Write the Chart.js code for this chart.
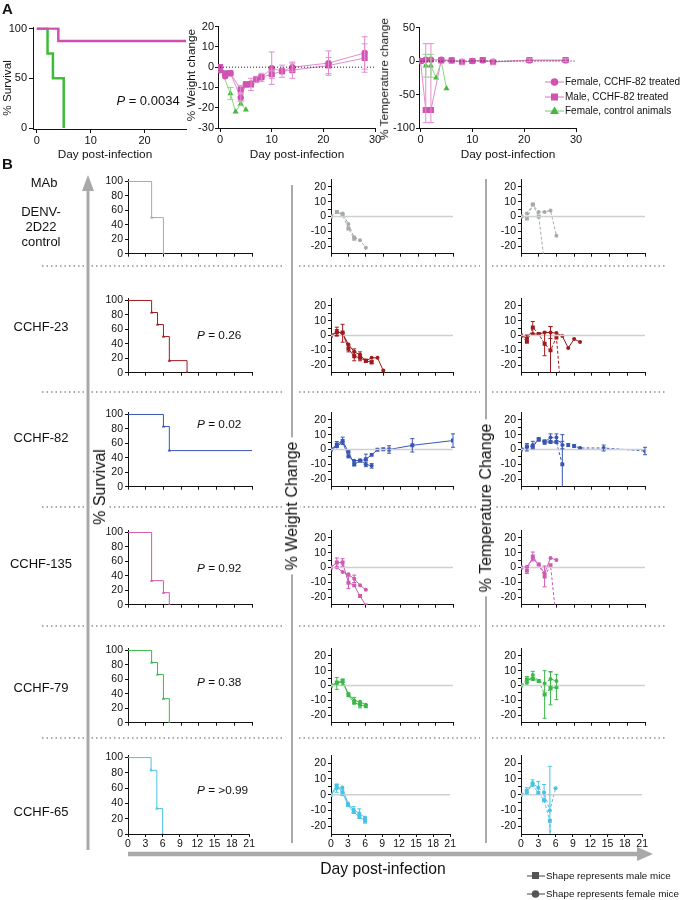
<!DOCTYPE html>
<html>
<head>
<meta charset="utf-8">
<script src="https://cdn.jsdelivr.net/npm/chart.js@4.4.0/dist/chart.umd.min.js"></script>
<style>
  body { margin: 0; background: #fff; }
  #fig { position: relative; width: 686px; height: 900px; overflow: hidden; background: #fff;
         font-family: 'Liberation Sans', Arial, sans-serif; color: #111; }
  canvas.c { position: absolute; }
  .t { position: absolute; white-space: nowrap; line-height: 1; }
  .rot { position: absolute; white-space: nowrap; line-height: 1; transform: translate(-50%, -50%) rotate(-90deg); }
  .rot.bg { background: #fff; padding: 0 4px; }
</style>
</head>
<body>
<div id="fig"><canvas id="deco" width="686" height="900" style="position:absolute;left:0;top:0"></canvas></div>
<script>
// ---------- Panel A data ----------
const aSurvTreatedDays = [0, 4, 28];
const aSurvTreated = [100, 87.5, 87.5];
const aSurvControlDays = [0, 2, 3, 5];
const aSurvControl = [100, 75, 50, 0];

const aWeightDays = [0, 1, 2, 4, 5, 6, 7, 8, 10, 12, 14, 21, 28];
const aWeightFemale = [-1.5, -4.5, -3, -15, -8.5, -8, -6, -5, -0.5, -2, 0, 2, 7];
const aWeightFemaleErr = [0, 0, 0, 1.5, 0, 0, 0, 0, 8, 0, 2, 6, 8];
const aWeightMale = [0, -3, -3, -11, -8.5, -8.5, -6, -5, -3.5, -2, -1.5, 0.8, 4.5];
const aWeightMaleErr = [0, 0, 0, 2, 0, 3, 1.5, 2, 2, 3, 4, 4, 7];
const aWeightCtrlDays = [0, 2, 3, 4, 5];
const aWeightCtrl = [0, -13, -22, -18, -21];
const aWeightCtrlErr = [0, 3, 0, 1, 0];

const aTempDays = [0, 1, 2, 4, 6, 8, 10, 12, 14, 21, 28];
const aTempFemale = [0, 2, 2, 2, 1, -1, 0, 1, -1, 1, 1];
const aTempMale = [0, -73, -73, 1, 1, -1.5, 0, 1.5, -1.5, 1.5, 1.5];
const aTempMaleErr = [0, [19, 99], [19, 99], 0, 0, 4, 0, 0, 4, 2, 2];
const aTempCtrlDays = [0, 1, 2, 3, 4, 5];
const aTempCtrl = [0, -7, -7, -25, 0, -41];
const aTempCtrlErr = [0, 17, 17, 0, 0, 0];

// ---------- Panel B data ----------
const bDayTicks = [0, 3, 6, 9, 12, 15, 18, 21];
const rowNames = ['DENV', 'C23', 'C82', 'C135', 'C79', 'C65'];
const pValues = ['', '0.26', '0.02', '0.92', '0.38', '>0.99'];

// MAb DENV-2D22 control
const survDaysDENV = [0, 4, 6], survDENV = [100, 50, 0];
const wDaysDENV_F = [0, 1, 2, 3, 4, 5, 6], wDENV_F = [0, 3, 2, -5, -14, -16, -21], wErrDENV_F = [];
const wDaysDENV_M = [0, 1, 2, 3, 4], wDENV_M = [0, 3, 1, -8, -15], wErrDENV_M = [];
const tDaysDENV_F = [0, 1, 2, 3, 4, 5, 6], tDENV_F = [0, 2, 8, 3, 3, 4, -13], tErrDENV_F = [];
const tDaysDENV_M = [0, 1, 2, 3, 4], tDENV_M = [0, -1.4, 8, 0, -32], tErrDENV_M = [];

// CCHF-23
const survDaysC23 = [0, 4, 5, 6, 7, 10], survC23 = [100, 83.3, 66.7, 50, 16.7, 0];
const wDaysC23_F = [0, 1, 2, 3, 4, 5, 6, 7, 8, 9, 10], wC23_F = [0, 2.6, 1.5, -6, -11, -13, -17, -15, -15, -23.6, -32], wErrC23_F = [0, 3, 6, 0, 2, 2, 0, 0, 0, 0, 0];
const wDaysC23_M = [0, 1, 2, 3, 4, 5, 6, 7], wC23_M = [0, 2, 2, -9, -14, -15, -17, -18], wErrC23_M = [0, 2, 0, 2, 3, 2, 1, 1];
const tDaysC23_F = [0, 1, 2, 3, 4, 5, 6, 7, 8, 9, 10], tC23_F = [0, -1.7, 1, 1, 2, 2, 1.6, -0.4, -8.4, -2.4, -4.4], tErrC23_F = [0, 2, 0, 0, 0, 4, 0, 0, 0, 0, 0];
const tDaysC23_M = [0, 1, 2, 3, 4, 5, 6, 7], tC23_M = [0, -4, 5.4, 1, -5.6, -10, -1.4, -48], tErrC23_M = [0, 1, 4, 0, 8, 16, 0, 0];

// CCHF-82
const survDaysC82 = [0, 6, 7, 21.3], survC82 = [100, 83.3, 50, 50];
const wDaysC82_F = [0, 1, 2, 3, 4, 5, 6, 7], wC82_F = [0, 2, 5, -4.6, -7.6, -7.2, -10, -11], wErrC82_F = [0, 0, 0, 1, 0, 0, 1.5, 1.5];
const wDaysC82_M = [0, 1, 2, 3, 4, 5, 6, 7, 8, 9, 10, 14, 21], wC82_M = [0, 3.4, 5.8, -1.6, -10, -7.5, -6.6, -3.6, -0.2, 0.2, 0, 2.8, 6], wErrC82_M = [0, 2, 2.5, 0, 1, 0, 3.5, 0, 0, 0, 2.5, 4.5, 4.5];
const tDaysC82_F = [0, 1, 2, 3, 4, 5, 6, 7, 8, 9, 10, 14, 21], tC82_F = [0, 1.5, 3, 7, 5, 8, 8, 3, 3, 2.4, 1, 1, -1], tErrC82_F = [0, 2.5, 2.5, 1, 1.5, 2.5, 2.5, 2.5, 1, 1, 0.5, 2, 2.5];
const tDaysC82_M = [0, 1, 2, 3, 4, 5, 6, 7], tC82_M = [0, 2, 2, 6.5, 5, 5, 5, -10], tErrC82_M = [0, 0, 0, 0, 0, 0, 0, 20];

// CCHF-135
const survDaysC135 = [0, 4, 6, 7], survC135 = [100, 33.3, 16.7, 0];
const wDaysC135_F = [0, 1, 2, 3, 4, 5, 6], wC135_F = [0, 0, -3, -4.6, -7.6, -12, -15], wErrC135_F = [0, 0, 0, 0, 2.5, 0, 0];
const wDaysC135_M = [0, 1, 2, 3, 4, 5, 6], wC135_M = [0, 3.4, 3.4, -10.2, -12, -19.2, -25.5], wErrC135_M = [0, 3, 2.5, 4, 0, 0, 0];
const tDaysC135_F = [0, 1, 2, 3, 4, 5, 6], tC135_F = [0, 0.5, 6, 2, -4, 6.4, 5], tErrC135_F = [];
const tDaysC135_M = [0, 1, 2, 3, 4, 5, 6], tC135_M = [0, -2, 7.4, 2, -6, 1.6, -36], tErrC135_M = [0, 2, 3, 0, 7, 0, 0];

// CCHF-79
const survDaysC79 = [0, 4, 5, 6, 7], survC79 = [100, 83.3, 66.7, 33.3, 0];
const wDaysC79_F = [0, 1, 2, 3, 4, 5, 6], wC79_F = [0, 1.4, 2.4, -5.6, -10, -11, -13], wErrC79_F = [0, 4, 2, 0, 2, 0, 0];
const wDaysC79_M = [0, 1, 2, 3, 4, 5, 6], wC79_M = [0, 2, 3, -6.6, -11.6, -13, -14], wErrC79_M = [0, 0, 0, 0, 0, 2, 0];
const tDaysC79_F = [0, 1, 2, 3, 4, 5, 6], tC79_F = [0, 1.6, 7, 3, 1.4, 4.4, 3], tErrC79_F = [0, 0, 2.5, 0, 0, 5, 0];
const tDaysC79_M = [0, 1, 2, 3, 4, 5, 6], tC79_M = [0, 4, 4.4, 3, -6, -2, -1], tErrC79_M = [0, 2, 0, 0, 16, 11, 8.5];

// CCHF-65
const survDaysC65 = [0, 4, 5, 6], survC65 = [100, 83.3, 33.3, 0];
const wDaysC65_F = [0, 1, 2, 3, 4, 5, 6], wC65_F = [0, 4, 4.5, -5.6, -9.6, -12, -14.5], wErrC65_F = [0, 2.5, 0, 0, 2, 3, 0];
const wDaysC65_M = [0, 1, 2, 3, 4, 5, 6], wC65_M = [0, 5.8, 1.4, -6.6, -11, -14, -16.6], wErrC65_M = [0, 0, 2, 0, 0, 0, 1.5];
const tDaysC65_F = [0, 1, 2, 3, 4, 5, 6], tC65_F = [0, 1, 7.4, 4.4, 1.4, -10, 4], tErrC65_F = [0, 0, 2, 4, 5, 28, 0];
const tDaysC65_M = [0, 1, 2, 3, 4, 5, 6], tC65_M = [0, 2.4, 6.4, 1, -3.6, -16.6, -70], tErrC65_M = [0, 2, 0, 0, 0, 0, 0];

// ---------- setup ----------
Chart.defaults.font.family = "'Liberation Sans', Arial, sans-serif";
Chart.defaults.color = '#111';
Chart.defaults.animation = false;
const fig = document.getElementById('fig');

function pts(xs, ys) { return xs.map((x, i) => ({ x: x, y: ys[i] })); }

// error bars drawn from each dataset's err array through the y scale
const errorBars = {
  id: 'errorBars',
  afterDatasetsDraw(chart) {
    const { ctx, chartArea, scales } = chart;
    ctx.save();
    ctx.beginPath();
    ctx.rect(chartArea.left - 3, chartArea.top - 3, chartArea.right - chartArea.left + 6, chartArea.bottom - chartArea.top + 3);
    ctx.clip();
    chart.data.datasets.forEach((ds, i) => {
      if (!ds.err || !ds.err.length) return;
      const meta = chart.getDatasetMeta(i);
      ctx.strokeStyle = ds.errColor || ds.borderColor;
      ctx.lineWidth = 1;
      meta.data.forEach((p, j) => {
        const e = ds.err[j];
        if (!e) return;
        const lo = Array.isArray(e) ? e[0] : e, hi = Array.isArray(e) ? e[1] : e;
        const v = ds.data[j].y;
        const y1 = scales.y.getPixelForValue(v + hi), y2 = scales.y.getPixelForValue(v - lo);
        const cw = ds.capW || 2;
        ctx.beginPath();
        ctx.moveTo(p.x, y1); ctx.lineTo(p.x, y2);
        ctx.moveTo(p.x - cw, y1); ctx.lineTo(p.x + cw, y1);
        ctx.moveTo(p.x - cw, y2); ctx.lineTo(p.x + cw, y2);
        ctx.stroke();
      });
    });
    ctx.restore();
  }
};

function axis(min, max, ticks, o) {
  return {
    type: 'linear', min: min, max: max,
    afterBuildTicks: ax => { ax.ticks = ticks.map(v => ({ value: v })); },
    border: { display: true, color: '#111', width: 1 },
    grid: { display: true, drawOnChartArea: false, drawTicks: true, tickLength: o.tl || 4, color: '#111', lineWidth: 1 },
    ticks: { display: o.labels !== false, font: { size: o.fs }, padding: o.pad || 2, maxRotation: 0, autoSkip: false, color: '#111',
             callback: o.cb || (v => v) }
  };
}

// box = chart area in page px, pad = room around it for the axes
function addChart(box, pad, datasets, xs, ys) {
  const cv = document.createElement('canvas');
  const W = box.r - box.l + pad.L + pad.R, H = box.b - box.t + pad.T + pad.B;
  cv.width = W; cv.height = H;
  cv.className = 'c';
  cv.style.left = (box.l - pad.L) + 'px';
  cv.style.top = (box.t - pad.T) + 'px';
  fig.appendChild(cv);
  xs.afterFit = s => { s.height = pad.B; };
  ys.afterFit = s => { s.width = pad.L; };
  return new Chart(cv, {
    type: 'line',
    data: { datasets: datasets },
    options: {
      responsive: false, devicePixelRatio: 1,
      layout: { padding: { top: pad.T, right: pad.R, left: 0, bottom: 0 }, autoPadding: false },
      plugins: { legend: { display: false }, tooltip: { enabled: false } },
      scales: { x: xs, y: ys },
      elements: { line: { tension: 0 } }
    },
    plugins: [errorBars]
  });
}

function ds(data, color, o) {
  return Object.assign({
    data: data, borderColor: color, backgroundColor: color, borderWidth: 1,
    pointRadius: 2, pointStyle: 'circle', pointBorderWidth: 0, pointHoverRadius: 0, fill: false
  }, o || {});
}

// reference line at 0 spanning the x range
function zeroLine(x0, x1, color, dash, w) {
  return ds(pts([x0, x1], [0, 0]), color, { pointRadius: 0, borderWidth: w || 1, borderDash: dash || [] });
}

// ---------- Panel A ----------
const pinkM = '#cf53b0', pinkL = '#e38ccf', greenM = '#46b93d', greenL = '#8fd487';

addChart({ l: 33, r: 186, t: 25, b: 129 }, { L: 30, T: 6, R: 4, B: 18 }, [
  ds(pts(aSurvTreatedDays, aSurvTreated), '#d04fae', { stepped: 'before', borderWidth: 2.5, pointRadius: 0 }),
  ds(pts(aSurvControlDays, aSurvControl), '#3fbb38', { stepped: 'before', borderWidth: 2.5, pointRadius: 0 })
], axis(-0.7, 27.7, [0, 10, 20], { fs: 11, tl: 4, pad: 1 }), axis(-1, 101, [0, 50, 100], { fs: 11, tl: 4 }));

addChart({ l: 218, r: 375, t: 25, b: 128 }, { L: 26, T: 6, R: 8, B: 18 }, [
  zeroLine(0, 30, '#111', [1, 2]),
  ds(pts(aWeightDays, aWeightMale), pinkL, { pointStyle: 'rect', pointRadius: 4.3, backgroundColor: pinkM, err: aWeightMaleErr, capW: 3 }),
  ds(pts(aWeightDays, aWeightFemale), pinkL, { pointRadius: 3.2, backgroundColor: pinkM, err: aWeightFemaleErr, capW: 3 }),
  ds(pts(aWeightCtrlDays, aWeightCtrl), greenL, { pointStyle: 'triangle', pointRadius: 3.5, backgroundColor: greenM, err: aWeightCtrlErr, capW: 3 })
], axis(-0.4, 30, [0, 10, 20, 30], { fs: 11, tl: 4, pad: 1 }), axis(-30, 20, [-30, -20, -10, 0, 10, 20], { fs: 11, tl: 3, pad: 1 }));

addChart({ l: 419, r: 576, t: 26, b: 128 }, { L: 34, T: 6, R: 8, B: 18 }, [
  zeroLine(0, 30, '#111', [1, 2]),
  ds(pts(aTempDays, aTempMale), pinkL, { pointStyle: 'rect', pointRadius: 4.3, backgroundColor: pinkM, err: aTempMaleErr, capW: 3 }),
  ds(pts(aTempDays, aTempFemale), pinkL, { pointRadius: 3.2, backgroundColor: pinkM, capW: 3 }),
  ds(pts(aTempCtrlDays, aTempCtrl), greenL, { pointStyle: 'triangle', pointRadius: 3.5, backgroundColor: greenM, err: aTempCtrlErr, capW: 3 })
], axis(-0.3, 30, [0, 10, 20, 30], { fs: 11, tl: 4, pad: 1 }), axis(-100, 50, [-100, -50, 0, 50], { fs: 11, tl: 3, pad: 1 }));

// ---------- Panel B ----------
const rowColors = ['#a5abaa', '#a01a1e', '#3a56b4', '#cd5ab4', '#3cb84a', '#48c3e6'];
const rowBottoms = [258, 377, 491, 609, 727, 834];
const rowH = 83;
const colS = { l: 128, r: 252 }, colW = { l: 331, r: 453 }, colT = { l: 521, r: 645 };
const dashCircleT = [true, false, true, false, true, true];

const data = {
  DENV: [survDaysDENV, survDENV, wDaysDENV_F, wDENV_F, wErrDENV_F, wDaysDENV_M, wDENV_M, wErrDENV_M, tDaysDENV_F, tDENV_F, tErrDENV_F, tDaysDENV_M, tDENV_M, tErrDENV_M],
  C23: [survDaysC23, survC23, wDaysC23_F, wC23_F, wErrC23_F, wDaysC23_M, wC23_M, wErrC23_M, tDaysC23_F, tC23_F, tErrC23_F, tDaysC23_M, tC23_M, tErrC23_M],
  C82: [survDaysC82, survC82, wDaysC82_F, wC82_F, wErrC82_F, wDaysC82_M, wC82_M, wErrC82_M, tDaysC82_F, tC82_F, tErrC82_F, tDaysC82_M, tC82_M, tErrC82_M],
  C135: [survDaysC135, survC135, wDaysC135_F, wC135_F, wErrC135_F, wDaysC135_M, wC135_M, wErrC135_M, tDaysC135_F, tC135_F, tErrC135_F, tDaysC135_M, tC135_M, tErrC135_M],
  C79: [survDaysC79, survC79, wDaysC79_F, wC79_F, wErrC79_F, wDaysC79_M, wC79_M, wErrC79_M, tDaysC79_F, tC79_F, tErrC79_F, tDaysC79_M, tC79_M, tErrC79_M],
  C65: [survDaysC65, survC65, wDaysC65_F, wC65_F, wErrC65_F, wDaysC65_M, wC65_M, wErrC65_M, tDaysC65_F, tC65_F, tErrC65_F, tDaysC65_M, tC65_M, tErrC65_M]
};

const minorCb = v => (v % 10 === 0 ? v : '');
rowNames.forEach((name, r) => {
  const d = data[name];
  const c = rowColors[r];
  const b = rowBottoms[r], t = b - rowH;
  const last = r === rowNames.length - 1;
  const padB = last ? 17 : 4;
  const xAx = () => axis(0, 21, bDayTicks, { fs: 10.5, tl: 3, pad: 1, labels: last });

  // survival (Kaplan-Meier steps)
  const sv = d[1];
  addChart({ l: colS.l, r: colS.r, t: t, b: b }, { L: 30, T: 4, R: 4, B: padB }, [
    ds(pts(d[0], sv), c, { stepped: 'before', borderWidth: 1, pointStyle: 'triangle',
      pointRadius: k => (k.dataIndex === 0 || sv[k.dataIndex] === sv[k.dataIndex - 1]) ? 0 : 2 })
  ], xAx(), axis(0, 103, [0, 20, 40, 60, 80, 100], { fs: 10.5, tl: 3 }));

  // weight change
  addChart({ l: colW.l, r: colW.r, t: t, b: b }, { L: 28, T: 4, R: 4, B: padB }, [
    zeroLine(0, 21, '#cfcfcf', [], 1.5),
    ds(pts(d[5], d[6]), c, { pointStyle: 'rect', pointRadius: 2.8, err: d[7], borderDash: r === 0 ? [3, 2] : [] }),
    ds(pts(d[2], d[3]), c, { pointRadius: 2, err: d[4], borderDash: r === 0 ? [3, 2] : [] })
  ], xAx(), axis(-25, 25, [-20, -15, -10, -5, 0, 5, 10, 15, 20], { fs: 10.5, tl: 3, cb: minorCb }));

  // temperature change
  addChart({ l: colT.l, r: colT.r, t: t, b: b }, { L: 28, T: 4, R: 4, B: padB }, [
    zeroLine(0, 21, '#cfcfcf', [], 1.5),
    ds(pts(d[11], d[12]), c, { pointStyle: 'rect', pointRadius: 2.8, err: d[13], borderDash: [3, 2] }),
    ds(pts(d[8], d[9]), c, { pointRadius: 2, err: d[10], borderDash: dashCircleT[r] ? [3, 2] : [] })
  ], xAx(), axis(-25, 25, [-20, -15, -10, -5, 0, 5, 10, 15, 20], { fs: 10.5, tl: 3, cb: minorCb }));
});

// ---------- decorations ----------
const g = document.getElementById('deco').getContext('2d');
g.strokeStyle = '#8f8f8f'; g.lineWidth = 1.5; g.setLineDash([1.5, 3]);
[266, 392, 507, 626, 738].forEach(y => {
  [[42, 285], [299, 480], [492, 665]].forEach(s => { g.beginPath(); g.moveTo(s[0], y); g.lineTo(s[1], y); g.stroke(); });
});
g.setLineDash([]);
g.strokeStyle = '#a9a9a9'; g.fillStyle = '#a9a9a9';
g.lineWidth = 3; g.beginPath(); g.moveTo(88, 188); g.lineTo(88, 850); g.stroke();
g.beginPath(); g.moveTo(88, 175); g.lineTo(82, 191); g.lineTo(94, 191); g.closePath(); g.fill();
g.lineWidth = 2;
g.beginPath(); g.moveTo(292, 185); g.lineTo(292, 843); g.stroke();
g.beginPath(); g.moveTo(486, 179); g.lineTo(486, 843); g.stroke();
g.lineWidth = 4.5; g.beginPath(); g.moveTo(128, 854); g.lineTo(640, 854); g.stroke();
g.beginPath(); g.moveTo(653, 854); g.lineTo(637, 847); g.lineTo(637, 861); g.closePath(); g.fill();

// legend markers (panel A)
function legendMark(y, shape, lc, mc) {
  g.strokeStyle = lc; g.lineWidth = 1.2; g.beginPath(); g.moveTo(545, y); g.lineTo(564, y); g.stroke();
  g.fillStyle = mc; g.beginPath();
  if (shape === 'circle') g.arc(554.5, y, 3.8, 0, Math.PI * 2);
  else if (shape === 'rect') g.rect(551, y - 3.5, 7, 7);
  else { g.moveTo(554.5, y - 4.5); g.lineTo(550, y + 3); g.lineTo(559, y + 3); g.closePath(); }
  g.fill();
}
legendMark(82, 'circle', pinkL, pinkM);
legendMark(97, 'rect', pinkL, pinkM);
legendMark(111, 'tri', greenL, greenM);
// legend markers (panel B)
g.strokeStyle = '#666'; g.fillStyle = '#555'; g.lineWidth = 1.2;
g.beginPath(); g.moveTo(527, 876); g.lineTo(545, 876); g.stroke(); g.fillRect(532, 872, 7, 7);
g.beginPath(); g.moveTo(527, 894); g.lineTo(545, 894); g.stroke();
g.beginPath(); g.arc(535.5, 894, 3.8, 0, Math.PI * 2); g.fill();

// ---------- text ----------
function txt(s, x, y, size, extra) {
  const el = document.createElement('div');
  el.className = 't';
  el.innerHTML = s;
  el.style.left = x + 'px'; el.style.top = y + 'px'; el.style.fontSize = size + 'px';
  if (extra) Object.assign(el.style, extra);
  fig.appendChild(el);
  return el;
}
function ctxt(s, cx, cy, size, extra) {
  return txt(s, cx, cy, size, Object.assign({ transform: 'translate(-50%,-50%)', textAlign: 'center' }, extra || {}));
}
function rtxt(s, cx, cy, size, bg) {
  const el = document.createElement('div');
  el.className = bg ? 'rot bg' : 'rot'; el.textContent = s;
  el.style.left = cx + 'px'; el.style.top = cy + 'px'; el.style.fontSize = size + 'px';
  fig.appendChild(el);
}
txt('A', 2, 1, 15, { fontWeight: 'bold' });
txt('B', 2, 156, 15, { fontWeight: 'bold' });
rtxt('% Survival', 8, 88, 11.8);
rtxt('% Weight change', 192, 75, 11.8);
rtxt('% Temperature change', 385, 79, 11.8);
ctxt('Day post-infection', 105, 155, 11.8);
ctxt('Day post-infection', 297, 155, 11.8);
ctxt('Day post-infection', 508, 155, 11.8);
ctxt('<i>P</i> = 0.0034', 148, 100, 13);
txt('Female, CCHF-82 treated', 565, 77, 10);
txt('Male, CCHF-82 treated', 565, 92, 10);
txt('Female, control animals', 565, 106, 10);

ctxt('MAb', 44, 182, 13);
ctxt('DENV-<br>2D22<br>control', 41, 226, 13, { lineHeight: '15px' });
const rowLabelY = [0, 326, 437, 563, 687, 811];
['', 'CCHF-23', 'CCHF-82', 'CCHF-135', 'CCHF-79', 'CCHF-65'].forEach((s, i) => { if (s) ctxt(s, 41, rowLabelY[i], 13); });
const pY = [0, 336, 425, 569, 683, 791];
pValues.forEach((p, i) => { if (p) txt('<i>P</i> = ' + p, 197, pY[i] - 6.5, 11.8); });

rtxt('% Survival', 100, 487, 16, true);
rtxt('% Weight Change', 292, 506, 16, true);
rtxt('% Temperature Change', 486, 508, 16, true);
ctxt('Day post-infection', 383, 869, 15.7);
txt('Shape represents male mice', 546, 871, 9.8);
txt('Shape represents female mice', 546, 889, 9.8);
</script>
</body>
</html>
